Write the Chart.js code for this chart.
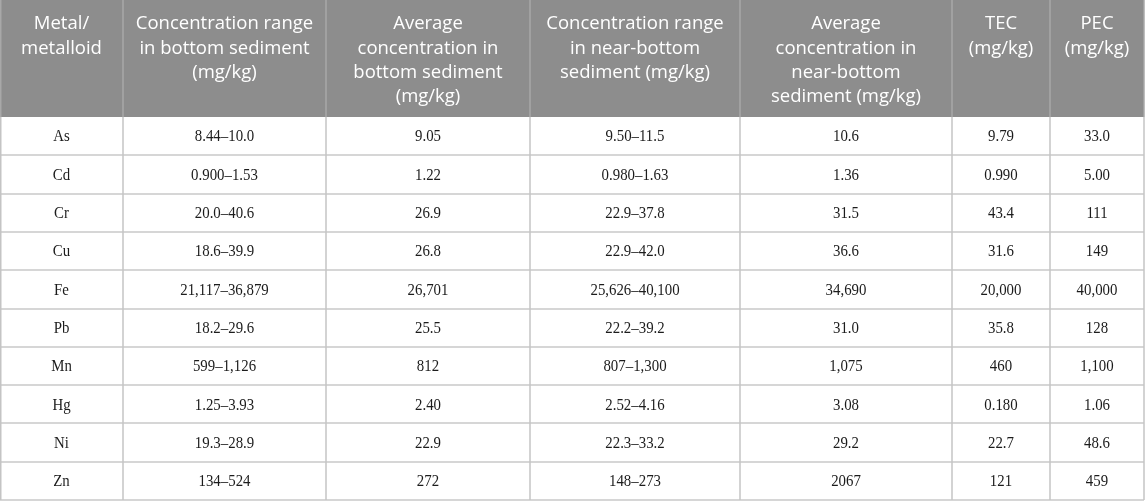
<!DOCTYPE html>
<html>
<head>
<meta charset="utf-8">
<script src="https://cdn.jsdelivr.net/npm/chart.js@4.4.1/dist/chart.umd.min.js"></script>
<style>
html,body{margin:0;padding:0;background:#fff;}
#wrap{width:1145px;height:502px;}
</style>
</head>
<body>
<div id="wrap"><canvas id="c" width="1145" height="502"></canvas></div>
<script>
// ---- data ----
const headers = [
  ['Metal/','metalloid'],
  ['Concentration range','in bottom sediment','(mg/kg)'],
  ['Average','concentration in','bottom sediment','(mg/kg)'],
  ['Concentration range','in near-bottom','sediment (mg/kg)'],
  ['Average','concentration in','near-bottom','sediment (mg/kg)'],
  ['TEC','(mg/kg)'],
  ['PEC','(mg/kg)']
];
const metals = ['As','Cd','Cr','Cu','Fe','Pb','Mn','Hg','Ni','Zn'];
const rangeBottom = ['8.44–10.0','0.900–1.53','20.0–40.6','18.6–39.9','21,117–36,879','18.2–29.6','599–1,126','1.25–3.93','19.3–28.9','134–524'];
const avgBottom = ['9.05','1.22','26.9','26.8','26,701','25.5','812','2.40','22.9','272'];
const rangeNear = ['9.50–11.5','0.980–1.63','22.9–37.8','22.9–42.0','25,626–40,100','22.2–39.2','807–1,300','2.52–4.16','22.3–33.2','148–273'];
const avgNear = ['10.6','1.36','31.5','36.6','34,690','31.0','1,075','3.08','29.2','2067'];
const tec = ['9.79','0.990','43.4','31.6','20,000','35.8','460','0.180','22.7','121'];
const pec = ['33.0','5.00','111','149','40,000','128','1,100','1.06','48.6','459'];

// ---- layout (table geometry in scale units) ----
const colEdges = [0,123,326,530,740,952,1050,1144];
const headerH = 117;
const rowH = 38.3;
const columns = [metals, rangeBottom, avgBottom, rangeNear, avgNear, tec, pec];
const rowEdges = [0, headerH];
for (let i = 1; i <= metals.length; i++) rowEdges.push(headerH + rowH * i);

const datasets = columns.map((col, ci) => ({
  label: headers[ci].join(' '),
  texts: col,
  data: col.map((_, ri) => ({ x: (colEdges[ci] + colEdges[ci+1]) / 2, y: (rowEdges[ri+1] + rowEdges[ri+2]) / 2 })),
  pointRadius: 0,
  pointHoverRadius: 0,
  showLine: false
}));

const tablePlugin = {
  id: 'table',
  beforeDatasetsDraw(chart) {
    const { ctx, scales: { x, y } } = chart;
    const X = v => x.getPixelForValue(v);
    const Y = v => y.getPixelForValue(v);
    ctx.save();
    // header background
    ctx.fillStyle = '#8d8d8d';
    ctx.fillRect(X(0), Y(0), X(colEdges[colEdges.length-1]) - X(0), Y(headerH) - Y(0));
    // horizontal lines
    ctx.strokeStyle = '#d6d6d6';
    ctx.lineWidth = 2;
    for (let i = 2; i < rowEdges.length; i++) {
      const yy = Math.round(Y(rowEdges[i]));
      ctx.beginPath(); ctx.moveTo(X(0), yy); ctx.lineTo(X(colEdges[colEdges.length-1]), yy); ctx.stroke();
    }
    // vertical lines body
    ctx.strokeStyle = '#c4c4c4';
    ctx.lineWidth = 1.5;
    colEdges.forEach(e => {
      const xx = Math.round(X(e)) + (e === 0 ? 0.75 : 0);
      ctx.beginPath(); ctx.moveTo(xx, Y(headerH)); ctx.lineTo(xx, Y(rowEdges[rowEdges.length-1])); ctx.stroke();
    });
    // vertical lines header
    ctx.strokeStyle = '#a8a8a8';
    colEdges.forEach(e => {
      const xx = Math.round(X(e)) + (e === 0 ? 0.75 : 0);
      ctx.beginPath(); ctx.moveTo(xx, Y(0)); ctx.lineTo(xx, Y(headerH)); ctx.stroke();
    });
    // header text
    ctx.fillStyle = '#ffffff';
    ctx.font = '18.5px "Open Sans", "Noto Sans", sans-serif';
    ctx.textAlign = 'center';
    ctx.textBaseline = 'middle';
    headers.forEach((lines, ci) => {
      const cx = (X(colEdges[ci]) + X(colEdges[ci+1])) / 2;
      lines.forEach((t, li) => ctx.fillText(t, cx, Y(24 + li * 24.3)));
    });
    ctx.restore();
  },
  afterDatasetsDraw(chart) {
    const { ctx } = chart;
    const sx = 0.9;
    ctx.save();
    ctx.fillStyle = '#1c1c1c';
    ctx.font = '16.5px "Liberation Serif", "DejaVu Serif", serif';
    ctx.textAlign = 'center';
    ctx.textBaseline = 'middle';
    chart.data.datasets.forEach((ds, di) => {
      const meta = chart.getDatasetMeta(di);
      meta.data.forEach((el, i) => {
        ctx.save();
        ctx.translate(el.x, el.y + 1);
        ctx.scale(sx, 1);
        ctx.fillText(ds.texts[i], 0, 0);
        ctx.restore();
      });
    });
    ctx.restore();
  }
};

new Chart(document.getElementById('c'), {
  type: 'scatter',
  data: { datasets },
  options: {
    responsive: false,
    animation: false,
    devicePixelRatio: 1,
    layout: { padding: 0 },
    plugins: { legend: { display: false }, tooltip: { enabled: false } },
    events: [],
    scales: {
      x: { type: 'linear', min: 0, max: 1145, display: false },
      y: { type: 'linear', min: 0, max: 502, reverse: true, display: false }
    }
  },
  plugins: [tablePlugin]
});
</script>
</body>
</html>
